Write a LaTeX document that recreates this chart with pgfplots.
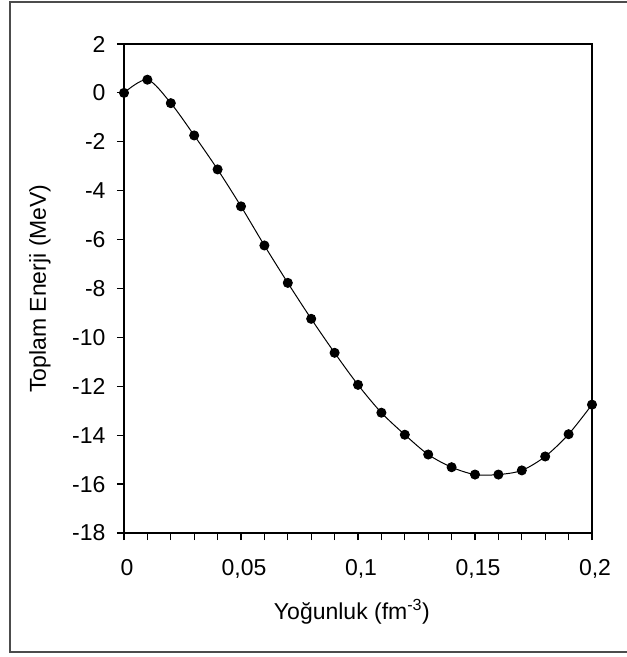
\documentclass[border=0pt]{standalone}
\usepackage{fontspec}
\setmainfont{Liberation Sans}
\usepackage{pgfplots}
\pgfplotsset{compat=1.18}
\begin{document}
\begin{tikzpicture}
\useasboundingbox (0,0) rectangle (627bp,657bp);
\draw[line width=2.5bp, black!70] (10bp,5bp) rectangle (640bp,655bp);
\begin{axis}[
  scale only axis, width=468bp, height=489bp,
  at={(124bp,124bp)}, anchor=south west,
  xmin=0, xmax=0.2, ymin=-18, ymax=2,
  axis line style={line width=1.2bp, black},
  tick pos=left, tick align=outside,
  major tick length=7bp, minor tick length=7bp,
  every tick/.style={black, line width=1.2bp},
  xtick={0,0.05,0.1,0.15,0.2},
  xticklabels={0,{0,05},{0,1},{0,15},{0,2}},
  minor xtick={0.01,0.02,0.03,0.04,0.06,0.07,0.08,0.09,0.11,0.12,0.13,0.14,0.16,0.17,0.18,0.19},
  ytick={-18,-16,-14,-12,-10,-8,-6,-4,-2,0,2},
  yticklabels={-18,-16,-14,-12,-10,-8,-6,-4,-2,0,2},
  font=\fontsize{23bp}{27bp}\selectfont,
  yticklabel style={xshift=-8bp},
  xticklabel style={yshift=-16bp, xshift=3bp},
  xlabel={Yoğunluk (fm\textsuperscript{-3})},
  ylabel={Toplam Enerji (MeV)},
  xlabel style={at={(axis description cs:0.487,-0.1616)}, anchor=center},
  ylabel style={at={(axis description cs:-0.1795,0.5)}, anchor=center},
  clip=false,
]
\addplot[black, line width=1bp, smooth, mark=*, mark size=4.5bp, mark options={fill=black}]
coordinates {
(0,0.0) (0.01,0.54) (0.02,-0.42) (0.03,-1.74) (0.04,-3.13) (0.05,-4.64)
(0.06,-6.24) (0.07,-7.77) (0.08,-9.24) (0.09,-10.63) (0.1,-11.94)
(0.11,-13.08) (0.12,-13.98) (0.13,-14.79) (0.14,-15.31) (0.15,-15.61)
(0.16,-15.61) (0.17,-15.44) (0.18,-14.87) (0.19,-13.96) (0.2,-12.75)
};
\end{axis}
\end{tikzpicture}
\end{document}
